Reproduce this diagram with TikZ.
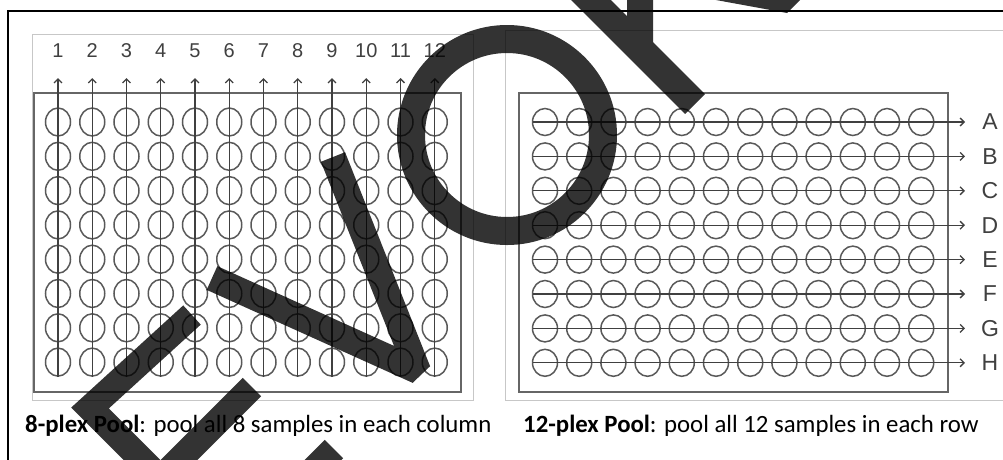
\documentclass[tikz,border=0pt]{standalone}
\usepackage{fontspec}
\setmainfont{Carlito}
\newfontfamily\platefont{Liberation Sans}
\usetikzlibrary{arrows.meta,shapes.geometric}

\begin{document}
\begin{tikzpicture}[
    x=1pt, y=-1pt,
    panel/.style={draw=black!22, line width=0.9pt},
    plate/.style={draw=black!60, line width=1.8pt},
    well/.style={
        draw=black!65,
        ellipse,
        line width=1.5pt,
        inner sep=0pt,
        minimum width=25pt,
        minimum height=27pt
    },
    colwell/.style={well, minimum height=28pt},
    poolarrow/.style={-{Straight Barb[length=4pt,width=8pt]}, draw=black!75, line width=1.3pt},
    numlabel/.style={font=\platefont\fontsize{20}{20}\selectfont, text=black!75, inner sep=0pt},
    letterlabel/.style={font=\platefont\fontsize{23}{23}\selectfont, text=black!75, inner sep=0pt},
    caption/.style={font=\fontsize{24.8}{28}\selectfont, anchor=base west, inner sep=0pt},
    wmstroke/.style={draw=black, line width=26pt, line join=miter}
]
\clip (0,0) rectangle (1003,459);

% ---------------------------------------------------------------------------
% Frame and panels
% ---------------------------------------------------------------------------
\draw[line width=2pt] (8,470) -- (8,10.5) -- (1010,10.5);
\draw[panel] (32,34) rectangle (473,400);
\draw[panel] (505,30) rectangle (1010,400);

\draw[plate] (34,93) rectangle (461,392);
\draw[plate] (519,93) rectangle (948,392);

% ---------------------------------------------------------------------------
% 8-plex plate -- pool each column
% ---------------------------------------------------------------------------
\foreach \c [evaluate=\c as \xc using 58+(\c-1)*34.25] in {1,...,12}{
    \node[numlabel] (num-\c) at (\xc,51) {\c};
    \coordinate (Lbot-\c) at (\xc,377);
    \coordinate (Ltip-\c) at (\xc,78);
    \foreach \r [evaluate=\r as \yr using 122+(\r-1)*34.3] in {1,...,8}
        \node[colwell] (L\r-\c) at (\xc,\yr) {};
    \draw[poolarrow] (Lbot-\c) -- (Ltip-\c);
}

% ---------------------------------------------------------------------------
% 12-plex plate -- pool each row
% ---------------------------------------------------------------------------
\foreach \r/\row [evaluate=\r as \yr using 122+(\r-1)*34.4] in {1/A,2/B,3/C,4/D,5/E,6/F,7/G,8/H}{
    \node[letterlabel] (row-\row) at (990,\yr) {\row};
    \coordinate (Rstart-\row) at (533,\yr);
    \coordinate (Rtip-\row) at (965,\yr);
    \foreach \c [evaluate=\c as \xc using 545+(\c-1)*34.2] in {1,...,12}
        \node[well] (R\row-\c) at (\xc,\yr) {};
    \draw[poolarrow] (Rstart-\row) -- (Rtip-\row);
}

% ---------------------------------------------------------------------------
% Captions
% ---------------------------------------------------------------------------
\node[caption] (cap8) at (25,432) {\textbf{8-plex Pool}: pool all 8 samples in each column};
\node[caption] (cap12) at (523,432) {\textbf{12-plex Pool}: pool all 12 samples in each row};

% ---------------------------------------------------------------------------
% Overprint
% ---------------------------------------------------------------------------
\begin{scope}[transparency group, opacity=0.8]
\draw[wmstroke] (192,315) -- (90,408) -- (165,483);
\draw[wmstroke] (252,387) -- (170,469);
\draw[wmstroke] (334,449) -- (300,483);
\draw[wmstroke, line join=bevel] (212,278) -- (418,371) -- (333,157);
\draw[wmstroke, line width=28pt] (507,135) circle[radius=96];
\draw[wmstroke, line width=28pt] (570,-21) -- (695,104);
\draw[wmstroke] (640,-20) -- (640,45);
\fill (705,-2) -- (802,-2) -- (787,13) -- cycle;
\end{scope}

\end{tikzpicture}
\end{document}
